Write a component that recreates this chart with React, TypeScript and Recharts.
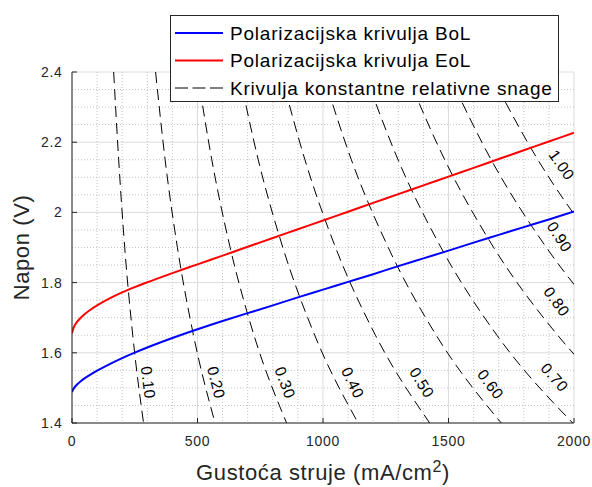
import React from "react";
import {
	ComposedChart,
	Line,
	XAxis,
	YAxis,
	CartesianGrid,
	ReferenceDot,
	Label,
} from "recharts";

// current density (mA/cm2) shared by both polarization curves
const currentGrid = [
	0, 5, 10, 20, 35, 50, 75, 100, 150, 200, 250, 300, 400, 500, 600, 700, 800,
	900, 1000, 1100, 1200, 1300, 1400, 1500, 1600, 1700, 1800, 1900, 2000,
];
const bolVoltage = [
	1.488, 1.496, 1.5015, 1.5095, 1.519, 1.527, 1.5385, 1.549, 1.568, 1.585,
	1.6005, 1.615, 1.642, 1.667, 1.6905, 1.713, 1.735, 1.758, 1.78, 1.802, 1.824,
	1.847, 1.869, 1.891, 1.914, 1.936, 1.958, 1.98, 2.003,
];
const eolVoltage = [
	1.656, 1.669, 1.677, 1.688, 1.7, 1.71, 1.7235, 1.735, 1.755, 1.772, 1.787,
	1.801, 1.827, 1.852, 1.877, 1.902, 1.927, 1.952, 1.977, 2.002, 2.027, 2.052,
	2.077, 2.102, 2.127, 2.152, 2.177, 2.202, 2.227,
];

// constant relative power curves, current read at these voltages
const contourLevels = ["0.10", "0.20", "0.30", "0.40", "0.50", "0.60", "0.70", "0.80", "0.90", "1.00"];
const contourVoltage = [2.4, 2.15, 1.9, 1.65, 1.4];
const contourCurrent = [
	[166, 186, 210, 242, 285],
	[333, 371, 420, 484, 570],
	[499, 557, 630, 725, 855],
	[665, 742, 840, 967, 1140],
	[831, 928, 1050, 1209, 1425],
	[998, 1113, 1260, 1451, 1710],
	[1164, 1299, 1470, 1693, 1995],
	[1330, 1485, 1680, 1935, 2280],
	[1496, 1670, 1890, 2176, 2565],
	[1663, 1856, 2100, 2418, 2850],
];
// where each contour label sits (data coords)
const labelCurrent = [304, 575, 849, 1119, 1394, 1668, 1923, 1931, 1943, 1951];
const labelVoltage = [1.515, 1.515, 1.515, 1.515, 1.515, 1.51, 1.53, 1.746, 1.93, 2.135];

const xTicks = [0, 500, 1000, 1500, 2000];
const yTicks = [1.4, 1.6, 1.8, 2.0, 2.2, 2.4];
const yTickLabels = ["1.4", "1.6", "1.8", "2", "2.2", "2.4"];
const xMinor = [100, 200, 300, 400, 600, 700, 800, 900, 1100, 1200, 1300, 1400, 1600, 1700, 1800, 1900];
const yMinor = [1.45, 1.5, 1.55, 1.65, 1.7, 1.75, 1.85, 1.9, 1.95, 2.05, 2.1, 2.15, 2.25, 2.3, 2.35];

const legendLabels = [
	"Polarizacijska krivulja BoL",
	"Polarizacijska krivulja EoL",
	"Krivulja konstantne relativne snage",
];

const W = 592;
const H = 487;
const MARGIN = {top: 72, right: 18, bottom: 0, left: 0};
const Y_AXIS_W = 72;
const X_AXIS_H = 64;
const PLOT_W = W - MARGIN.left - MARGIN.right - Y_AXIS_W;
const PLOT_H = H - MARGIN.top - MARGIN.bottom - X_AXIS_H;
const X_DOMAIN: [number, number] = [0, 2000];
const Y_DOMAIN: [number, number] = [1.4, 2.4];

const FONT = "'Liberation Sans', Arial, Helvetica, sans-serif";
const AXIS = "#262626";

const toPoints = (xs: number[], ys: number[]) => xs.map((j, i) => ({j, v: ys[i]}));

const bolData = toPoints(currentGrid, bolVoltage);
const eolData = toPoints(currentGrid, eolVoltage);
const contourData = contourCurrent.map((row) => toPoints(row, contourVoltage));

// text follows the local slope of its contour on screen
const labelAngle = (i: number) => {
	const js = contourCurrent[i];
	const v = labelVoltage[i];
	let k = 0;
	while (k < contourVoltage.length - 2 && v < contourVoltage[k + 1]) k++;
	const dx = ((js[k + 1] - js[k]) / (X_DOMAIN[1] - X_DOMAIN[0])) * PLOT_W;
	const dy = ((contourVoltage[k] - contourVoltage[k + 1]) / (Y_DOMAIN[1] - Y_DOMAIN[0])) * PLOT_H;
	return (Math.atan2(dy, dx) * 180) / Math.PI;
};

const BottomTick = ({x, y, payload}: any) => (
	<g>
		<line x1={x} x2={x} y1={y - 23} y2={y - 28} stroke={AXIS} />
		<text x={x} y={y} textAnchor="middle" fontSize={14} letterSpacing={0.7} fill={AXIS} fontFamily={FONT}>
			{payload.value}
		</text>
	</g>
);

const LeftTick = ({x, y, payload, index}: any) => (
	<g>
		<line x1={x + 9.5} x2={x + 14.5} y1={y} y2={y} stroke={AXIS} />
		<text x={x} y={y + 5} textAnchor="end" fontSize={14} letterSpacing={0.7} fill={AXIS} fontFamily={FONT}>
			{yTickLabels[index] ?? payload.value}
		</text>
	</g>
);

const TopTick = ({x, y}: any) => <line x1={x} x2={x} y1={y} y2={y + 5} stroke={AXIS} />;
const RightTick = ({x, y}: any) => <line x1={x} x2={x - 5} y1={y} y2={y} stroke={AXIS} />;

export default function App() {
	return (
		<div style={{position: "absolute", left: 0, top: 0, width: W, height: H, background: "#fff"}}>
			<ComposedChart width={W} height={H} margin={MARGIN}>
				<CartesianGrid stroke="#dcdcdc" />
				<CartesianGrid
					stroke="#c4c4c4"
					strokeDasharray="1 2"
					verticalValues={xMinor}
					horizontalValues={yMinor}
				/>
				<XAxis
					type="number"
					dataKey="j"
					domain={X_DOMAIN}
					ticks={xTicks}
					allowDataOverflow
					height={X_AXIS_H}
					tickSize={0}
					tickMargin={23}
					tickLine={false}
					axisLine={{stroke: AXIS}}
					tick={<BottomTick />}
					interval={0}
				>
					<Label
						content={(props: any) => {
							const vb = props.viewBox;
							return (
								<text
									x={vb.x + vb.width / 2}
									y={vb.y + 57}
									textAnchor="middle"
									fontSize={22}
									letterSpacing={0.6}
									fill={AXIS}
									fontFamily={FONT}
								>
									Gustoća struje (mA/cm
									<tspan dy={-8} fontSize={16}>2</tspan>
									<tspan dy={8}>)</tspan>
								</text>
							);
						}}
					/>
				</XAxis>
				<XAxis
					xAxisId="top"
					orientation="top"
					type="number"
					dataKey="j"
					domain={X_DOMAIN}
					ticks={xTicks}
					allowDataOverflow
					height={0}
					tickSize={0}
					tickMargin={0}
					tickLine={false}
					axisLine={{stroke: AXIS}}
					tick={<TopTick />}
					interval={0}
				/>
				<YAxis
					type="number"
					domain={Y_DOMAIN}
					ticks={yTicks}
					allowDataOverflow
					width={Y_AXIS_W}
					tickSize={0}
					tickMargin={9.5}
					tickLine={false}
					axisLine={{stroke: AXIS}}
					tick={<LeftTick />}
					interval={0}
				>
					<Label
						content={(props: any) => {
							const vb = props.viewBox;
							const cy = vb.y + vb.height / 2;
							return (
								<text
									x={28.5}
									y={cy}
									transform={`rotate(-90 28.5 ${cy})`}
									textAnchor="middle"
									fontSize={22}
									letterSpacing={0.6}
									fill={AXIS}
									fontFamily={FONT}
								>
									Napon (V)
								</text>
							);
						}}
					/>
				</YAxis>
				<YAxis
					yAxisId="right"
					orientation="right"
					type="number"
					domain={Y_DOMAIN}
					ticks={yTicks}
					allowDataOverflow
					width={0}
					tickSize={0}
					tickMargin={0}
					tickLine={false}
					axisLine={{stroke: AXIS}}
					tick={<RightTick />}
					interval={0}
				/>

				{contourData.map((pts, i) => (
					<Line
						key={contourLevels[i]}
						data={pts}
						dataKey="v"
						type="monotone"
						stroke="#000"
						strokeWidth={1}
						strokeDasharray="11 6"
						dot={false}
						activeDot={false}
						isAnimationActive={false}
					/>
				))}
				<Line
					data={eolData}
					dataKey="v"
					type="monotone"
					stroke="#ff0000"
					strokeWidth={2}
					dot={false}
					activeDot={false}
					isAnimationActive={false}
				/>
				<Line
					data={bolData}
					dataKey="v"
					type="monotone"
					stroke="#0000ff"
					strokeWidth={2}
					dot={false}
					activeDot={false}
					isAnimationActive={false}
				/>

				{contourLevels.map((lvl, i) => {
					const angle = labelAngle(i);
					return (
						<ReferenceDot
							key={"lbl" + lvl}
							x={labelCurrent[i]}
							y={labelVoltage[i]}
							r={0}
							shape={(p: any) => (
								<text
									x={p.cx}
									y={p.cy}
									transform={`rotate(${angle} ${p.cx} ${p.cy})`}
									textAnchor="middle"
									dominantBaseline="central"
									fontSize={15.5}
									letterSpacing={0.6}
									fill="#000"
									fontFamily={FONT}
								>
									{lvl}
								</text>
							)}
						/>
					);
				})}
			</ComposedChart>

			<svg
				width={389}
				height={87}
				style={{position: "absolute", left: 170, top: 15}}
			>
				<rect x={0.5} y={0.5} width={388} height={86} fill="#fff" stroke={AXIS} />
				{legendLabels.map((txt, i) => {
					const cy = 18 + i * 27.5;
					const color = i === 0 ? "#0000ff" : i === 1 ? "#ff0000" : "#000";
					return (
						<g key={txt}>
							<line
								x1={5}
								x2={53}
								y1={cy}
								y2={cy}
								stroke={color}
								strokeWidth={i < 2 ? 2 : 1}
								strokeDasharray={i < 2 ? undefined : "13 4.5"}
							/>
							<text
								x={60}
								y={cy}
								dominantBaseline="central"
								fontSize={19}
								letterSpacing={0.8}
								fill="#000"
								fontFamily={FONT}
							>
								{txt}
							</text>
						</g>
					);
				})}
			</svg>
		</div>
	);
}
